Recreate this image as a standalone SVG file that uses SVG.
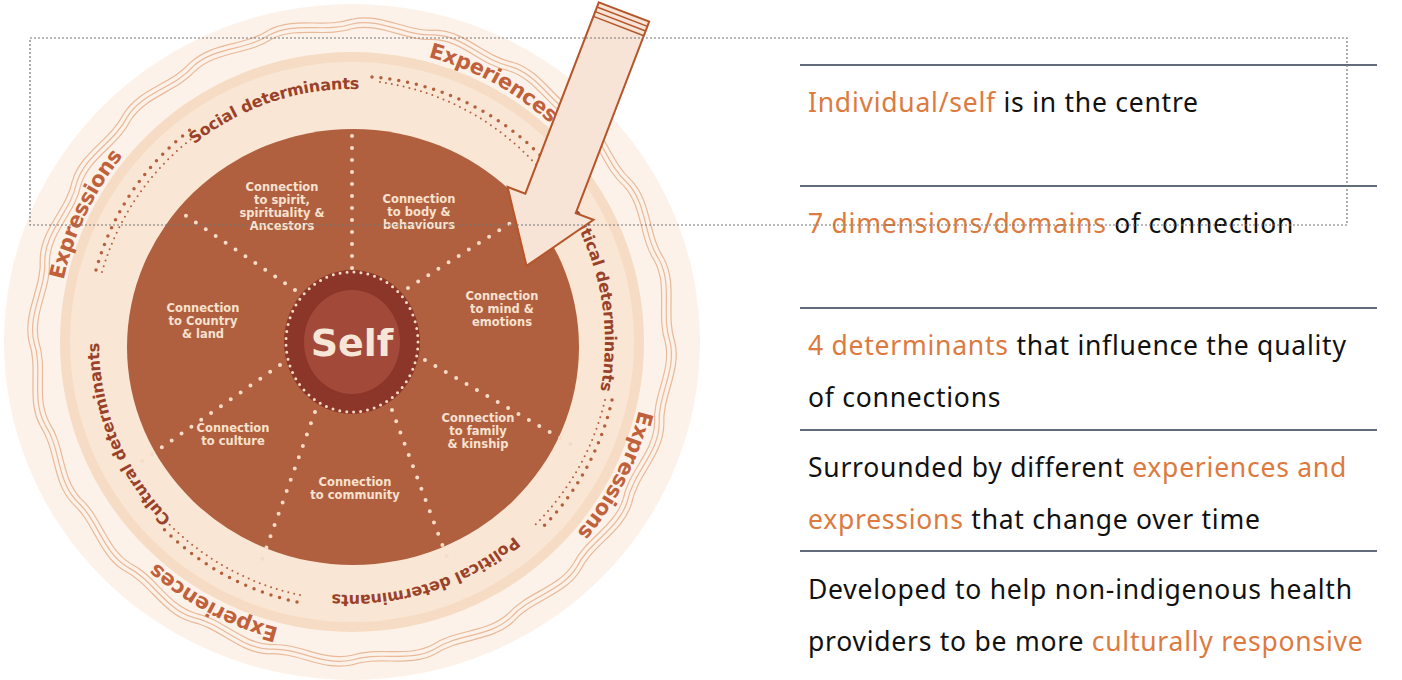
<svg xmlns="http://www.w3.org/2000/svg" xmlns:xlink="http://www.w3.org/1999/xlink" width="1402" height="680" viewBox="0 0 1402 680">
<style>
.lbl{font-family:"DejaVu Sans",sans-serif;font-weight:bold;font-size:11.5px;fill:#f7e1cf;text-anchor:middle}
.arc{font-family:"DejaVu Sans",sans-serif;font-weight:bold;fill:#9a4229;text-anchor:middle}
.det{font-size:16px}
.exp{font-size:21px;fill:#c0613c}
.rt{font-family:"Noto Sans",sans-serif;font-size:26.5px;letter-spacing:0.75px;fill:#111}
.or{fill:#dc7a40}
.hl{stroke:#2c3a4e;stroke-width:1.5}
.dot{fill:none;stroke:#f6dcc6;stroke-linecap:round;stroke-width:4;stroke-dasharray:0 12}
.bd{fill:none;stroke:#b5603c;stroke-linecap:round}
.wave{fill:none;stroke:#e9b999;stroke-width:1.2}
</style>
<defs>
<path id="c258" d="M94,342 A258,258 0 1 1 610,342 A258,258 0 1 1 94,342"/>
<path id="c302" d="M50,342 A302,302 0 1 1 654,342 A302,302 0 1 1 50,342"/>
<path id="ws" d="M0,-318 C28.4,-324.8 53.8,-305.3 82.3,-307.2"/>
<g id="wave">
<use xlink:href="#ws"/><use xlink:href="#ws" transform="rotate(15)"/><use xlink:href="#ws" transform="rotate(30)"/><use xlink:href="#ws" transform="rotate(45)"/><use xlink:href="#ws" transform="rotate(60)"/><use xlink:href="#ws" transform="rotate(75)"/><use xlink:href="#ws" transform="rotate(90)"/><use xlink:href="#ws" transform="rotate(105)"/><use xlink:href="#ws" transform="rotate(120)"/><use xlink:href="#ws" transform="rotate(135)"/><use xlink:href="#ws" transform="rotate(150)"/><use xlink:href="#ws" transform="rotate(165)"/><use xlink:href="#ws" transform="rotate(180)"/><use xlink:href="#ws" transform="rotate(195)"/><use xlink:href="#ws" transform="rotate(210)"/><use xlink:href="#ws" transform="rotate(225)"/><use xlink:href="#ws" transform="rotate(240)"/><use xlink:href="#ws" transform="rotate(255)"/><use xlink:href="#ws" transform="rotate(270)"/><use xlink:href="#ws" transform="rotate(285)"/><use xlink:href="#ws" transform="rotate(300)"/><use xlink:href="#ws" transform="rotate(315)"/><use xlink:href="#ws" transform="rotate(330)"/><use xlink:href="#ws" transform="rotate(345)"/>
</g>
</defs>
<rect width="1402" height="680" fill="#fff"/>
<g id="wheel">
<ellipse cx="352" cy="342" rx="348" ry="338" fill="#fdf2e9"/>
<g transform="translate(352,342)">
<use xlink:href="#wave" class="wave" transform="scale(0.985)"/>
<use xlink:href="#wave" class="wave"/>
<use xlink:href="#wave" class="wave" transform="scale(1.015)"/>
</g>
<ellipse cx="352" cy="342" rx="292" ry="290" fill="#f6dcc4"/>
<ellipse cx="352" cy="342" rx="282" ry="280" fill="#f9e6d5"/>
<ellipse cx="353" cy="347" rx="226" ry="218" fill="#b0603f"/>
</g>
<g id="band-dots">
<path class="bd" stroke-width="3.5" stroke-dasharray="0 9" d="M372,77 A266,266 0 0 1 552,168"/>
<path class="bd" stroke-width="3.5" stroke-dasharray="0 9" d="M612,400 A266,266 0 0 1 540,530"/>
<path class="bd" stroke-width="3.5" stroke-dasharray="0 9" d="M297,602 A266,266 0 0 1 160,525"/>
<path class="bd" stroke-width="3.5" stroke-dasharray="0 9" d="M96,270 A266,266 0 0 1 190,130"/>
<path class="bd" stroke-width="2" stroke-dasharray="0 6" d="M380,82 A260,260 0 0 1 545,175 M605,400 A260,260 0 0 1 535,525 M300,595 A260,260 0 0 1 165,520 M102,272 A260,260 0 0 1 195,136"/>
</g>
<g id="spokes">
<line class="dot" x1="352" y1="268" x2="352" y2="132"/>
<line class="dot" x1="408" y1="288" x2="528" y2="212"/>
<line class="dot" x1="425" y1="360" x2="572" y2="445"/>
<line class="dot" x1="392" y1="410" x2="448" y2="560"/>
<line class="dot" x1="315" y1="412" x2="262" y2="560"/>
<line class="dot" x1="280" y1="365" x2="135" y2="466"/>
<line class="dot" x1="295" y1="290" x2="185" y2="215"/>
</g>
<g id="self">
<ellipse cx="352" cy="342" rx="68" ry="72" fill="#8b3628"/>
<ellipse cx="352" cy="342" rx="66" ry="70" fill="none" stroke="#f6dcc6" stroke-width="3" stroke-linecap="round" stroke-dasharray="0 7"/>
<ellipse cx="352" cy="342" rx="48" ry="52" fill="#a3493a"/>
<text x="352" y="356" font-family="DejaVu Sans,sans-serif" font-weight="bold" font-size="38" fill="#f7e6d8" text-anchor="middle">Self</text>
</g>
<g id="labels">
<text class="lbl"><tspan x="282" y="191">Connection</tspan><tspan x="282" y="204">to spirit,</tspan><tspan x="282" y="217">spirituality &amp;</tspan><tspan x="282" y="230">Ancestors</tspan></text>
<text class="lbl"><tspan x="419" y="203">Connection</tspan><tspan x="419" y="216">to body &amp;</tspan><tspan x="419" y="229">behaviours</tspan></text>
<text class="lbl"><tspan x="502" y="300">Connection</tspan><tspan x="502" y="313">to mind &amp;</tspan><tspan x="502" y="326">emotions</tspan></text>
<text class="lbl"><tspan x="203" y="312">Connection</tspan><tspan x="203" y="325">to Country</tspan><tspan x="203" y="338">&amp; land</tspan></text>
<text class="lbl"><tspan x="233" y="432">Connection</tspan><tspan x="233" y="445">to culture</tspan></text>
<text class="lbl"><tspan x="478" y="422">Connection</tspan><tspan x="478" y="435">to family</tspan><tspan x="478" y="448">&amp; kinship</tspan></text>
<text class="lbl"><tspan x="355" y="486">Connection</tspan><tspan x="355" y="499">to community</tspan></text>
</g>
<g id="ring-text">
<text class="arc det" dy="5"><textPath xlink:href="#c258" startOffset="322">Social determinants</textPath></text>
<text class="arc det" dy="5"><textPath xlink:href="#c258" startOffset="760">Political determinants</textPath></text>
<text class="arc det" dy="5"><textPath xlink:href="#c258" startOffset="1136">Political determinants</textPath></text>
<text class="arc det" dy="5"><textPath xlink:href="#c258" startOffset="1520">Cultural determinants</textPath></text>
<text class="arc exp" dy="7"><textPath xlink:href="#c302" startOffset="625">Experiences</textPath></text>
<text class="arc exp" dy="7"><textPath xlink:href="#c302" startOffset="1090">Expressions</textPath></text>
<text class="arc exp" dy="7"><textPath xlink:href="#c302" startOffset="1570">Experiences</textPath></text>
<text class="arc exp" dy="7"><textPath xlink:href="#c302" startOffset="135">Expressions</textPath></text>
</g>
<g id="arrow" transform="translate(624,12) rotate(21)">
<polygon points="-27,0 27,0 27,205 46,205 0,272 -46,205 -27,205" fill="#f8e4d6" stroke="#b5552a" stroke-width="2"/>
<line x1="-27" y1="5" x2="27" y2="5" stroke="#b5552a" stroke-width="1.5"/>
<line x1="-27" y1="10" x2="27" y2="10" stroke="#b5552a" stroke-width="1.5"/>
<line x1="-27" y1="15" x2="27" y2="15" stroke="#b5552a" stroke-width="1.5"/>
</g>
<g id="list">
<line class="hl" x1="800" y1="65" x2="1377" y2="65"/>
<line class="hl" x1="800" y1="186" x2="1377" y2="186"/>
<line class="hl" x1="800" y1="308" x2="1377" y2="308"/>
<line class="hl" x1="800" y1="430" x2="1377" y2="430"/>
<line class="hl" x1="800" y1="551" x2="1377" y2="551"/>
<text class="rt" x="808" y="112"><tspan class="or">Individual/self</tspan> is in the centre</text>
<text class="rt" x="808" y="233"><tspan class="or">7 dimensions/domains</tspan> of connection</text>
<text class="rt" x="808" y="355"><tspan class="or">4 determinants</tspan> that influence the quality</text>
<text class="rt" x="808" y="407">of connections</text>
<text class="rt" x="808" y="477">Surrounded by different <tspan class="or">experiences and</tspan></text>
<text class="rt" x="808" y="529"><tspan class="or">expressions</tspan> that change over time</text>
<text class="rt" x="808" y="599">Developed to help non-indigenous health</text>
<text class="rt" x="808" y="651">providers to be more <tspan class="or">culturally responsive</tspan></text>
</g>
<rect x="30" y="38" width="1317" height="187" fill="none" stroke="#777" stroke-width="1.2" stroke-dasharray="2 2"/>
</svg>
